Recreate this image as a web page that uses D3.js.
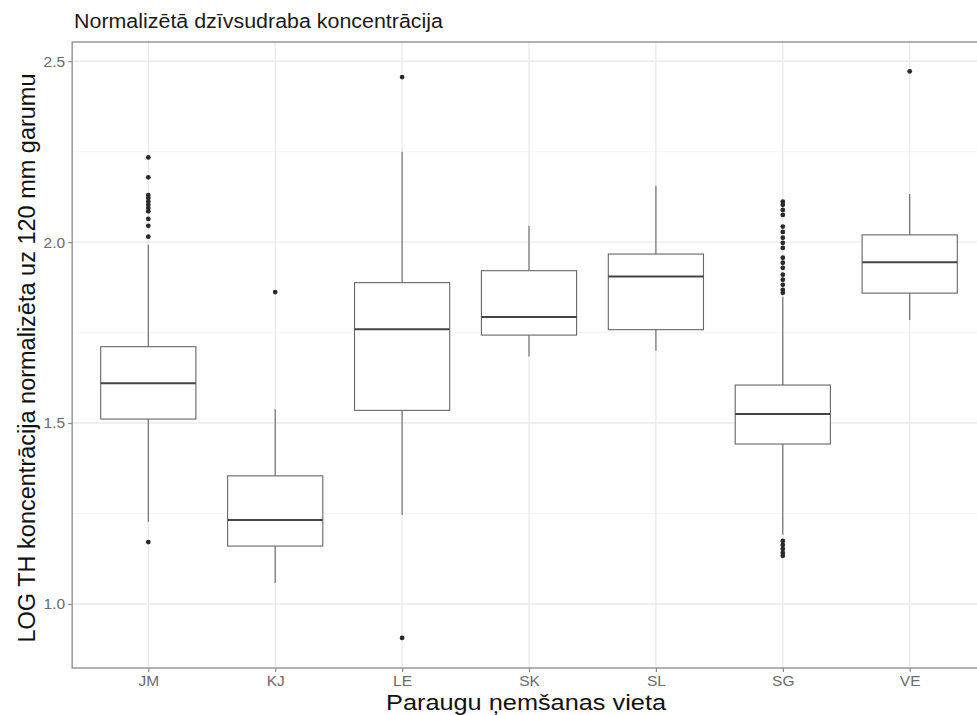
<!DOCTYPE html>
<html>
<head>
<meta charset="utf-8">
<script src="https://cdn.jsdelivr.net/npm/d3@7/dist/d3.min.js"></script>
<style>
  html, body { margin: 0; padding: 0; background: #fff; }
  svg { display: block; font-family: "Liberation Sans", Arial, sans-serif; }
</style>
</head>
<body>
<svg id="chart" width="977" height="715"></svg>
<script>
// Sampling sites and their box-plot statistics (log TH, normalised to 120 mm length)
const sites = ["JM", "KJ", "LE", "SK", "SL", "SG", "VE"];
const whiskerLow  = [1.227, 1.058, 1.246, 1.684, 1.700, 1.191, 1.785];
const quartile1   = [1.511, 1.160, 1.535, 1.743, 1.758, 1.442, 1.859];
const medians     = [1.610, 1.232, 1.759, 1.793, 1.905, 1.525, 1.944];
const quartile3   = [1.711, 1.354, 1.888, 1.921, 1.967, 1.605, 2.020];
const whiskerHigh = [1.993, 1.538, 2.250, 2.045, 2.156, 1.849, 2.133];
const outliers = [
  [2.234, 2.179, 2.130, 2.122, 2.112, 2.103, 2.094, 2.085, 2.064, 2.045, 2.015, 1.171],
  [1.862],
  [2.456, 0.906],
  [],
  [],
  [2.112, 2.103, 2.089, 2.075, 2.043, 2.028, 2.012, 1.998, 1.984, 1.957, 1.943, 1.929,
   1.910, 1.896, 1.882, 1.868, 1.860, 1.174, 1.163, 1.152, 1.141, 1.133],
  [2.472]
];
const yTicks = [1.0, 1.5, 2.0, 2.5];
const yMinor = [1.25, 1.75, 2.25];

const titleText = "Normalizētā dzīvsudraba koncentrācija";
const xTitle = "Paraugu ņemšanas vieta";
const yTitle = "LOG TH koncentrācija normalizēta uz 120 mm garumu";

const svg = d3.select("#chart");

// panel geometry
const step = 126.9;
const firstCenter = 148.3;
const panel = {
  left: firstCenter - 0.6 * step,
  right: firstCenter + (sites.length - 1 + 0.6) * step,
  top: 42,
  bottom: 668
};

const x = d3.scalePoint()
  .domain(sites)
  .range([firstCenter, firstCenter + (sites.length - 1) * step]);

const y = d3.scaleLinear()
  .domain([0.823, 2.553])
  .range([panel.bottom, panel.top]);

const boxW = step * 0.75;

// grid
const grid = svg.append("g");
grid.selectAll("line.minor").data(yMinor).join("line")
  .attr("x1", panel.left).attr("x2", panel.right)
  .attr("y1", d => y(d)).attr("y2", d => y(d))
  .attr("stroke", "#f3f3f3").attr("stroke-width", 0.8);
grid.selectAll("line.majory").data(yTicks).join("line")
  .attr("x1", panel.left).attr("x2", panel.right)
  .attr("y1", d => y(d)).attr("y2", d => y(d))
  .attr("stroke", "#ebebeb").attr("stroke-width", 1.4);
grid.selectAll("line.majorx").data(sites).join("line")
  .attr("x1", d => x(d)).attr("x2", d => x(d))
  .attr("y1", panel.top).attr("y2", panel.bottom)
  .attr("stroke", "#ebebeb").attr("stroke-width", 1.4);

// boxes
const boxes = svg.append("g").selectAll("g").data(sites).join("g");
boxes.append("line")
  .attr("x1", d => x(d)).attr("x2", d => x(d))
  .attr("y1", (d, i) => y(quartile3[i])).attr("y2", (d, i) => y(whiskerHigh[i]))
  .attr("stroke", "#666").attr("stroke-width", 1.1);
boxes.append("line")
  .attr("x1", d => x(d)).attr("x2", d => x(d))
  .attr("y1", (d, i) => y(quartile1[i])).attr("y2", (d, i) => y(whiskerLow[i]))
  .attr("stroke", "#666").attr("stroke-width", 1.1);
boxes.append("rect")
  .attr("x", d => x(d) - boxW / 2).attr("width", boxW)
  .attr("y", (d, i) => y(quartile3[i]))
  .attr("height", (d, i) => y(quartile1[i]) - y(quartile3[i]))
  .attr("fill", "#fff").attr("stroke", "#666").attr("stroke-width", 1.1);
boxes.append("line")
  .attr("x1", d => x(d) - boxW / 2).attr("x2", d => x(d) + boxW / 2)
  .attr("y1", (d, i) => y(medians[i])).attr("y2", (d, i) => y(medians[i]))
  .attr("stroke", "#444").attr("stroke-width", 2);
boxes.each(function (d, i) {
  d3.select(this).selectAll("circle").data(outliers[i]).join("circle")
    .attr("cx", x(d)).attr("cy", v => y(v)).attr("r", 2.4)
    .attr("fill", "#2a2a2a");
});

// panel border
svg.append("rect")
  .attr("x", panel.left).attr("y", panel.top)
  .attr("width", panel.right - panel.left).attr("height", panel.bottom - panel.top)
  .attr("fill", "none").attr("stroke", "#8a8a8a").attr("stroke-width", 1.3);

// axes
const yAxis = svg.append("g")
  .attr("transform", `translate(${panel.left},0)`)
  .call(d3.axisLeft(y).tickValues(yTicks).tickFormat(d3.format(".1f")).tickSize(4).tickPadding(3));
const xAxis = svg.append("g")
  .attr("transform", `translate(0,${panel.bottom})`)
  .call(d3.axisBottom(x).tickSize(4).tickPadding(3));
[yAxis, xAxis].forEach(a => {
  a.select(".domain").remove();
  a.selectAll(".tick line").attr("stroke", "#8a8a8a").attr("stroke-width", 1.2);
  a.selectAll(".tick text").attr("fill", "#6b6b6b")
    .style("font-size", "15.5px").style("font-family", "'Liberation Sans', Arial, sans-serif");
});

// titles
svg.append("text")
  .attr("x", 74).attr("y", 28)
  .attr("fill", "#1a1a1a").style("font-size", "20px")
  .attr("textLength", 369).attr("lengthAdjust", "spacingAndGlyphs")
  .text(titleText);

svg.append("text")
  .attr("x", 526).attr("y", 709.5)
  .attr("text-anchor", "middle").attr("fill", "#111")
  .style("font-size", "22px")
  .attr("textLength", 280).attr("lengthAdjust", "spacingAndGlyphs")
  .text(xTitle);

svg.append("text")
  .attr("transform", `translate(35,${(panel.top + panel.bottom) / 2 + 3}) rotate(-90)`)
  .attr("text-anchor", "middle").attr("fill", "#111")
  .style("font-size", "23.5px")
  .text(yTitle);
</script>
</body>
</html>
